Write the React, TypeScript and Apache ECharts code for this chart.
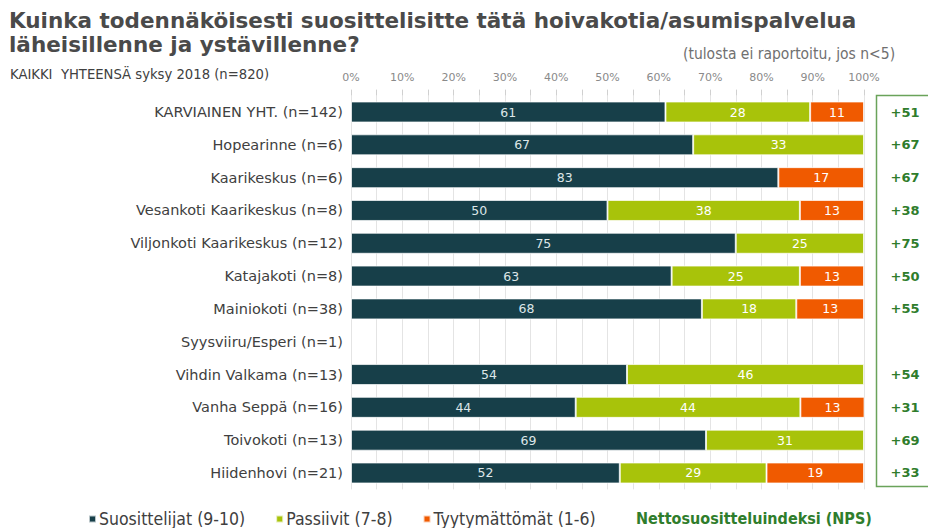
import React, { useEffect, useRef } from "react";
import * as echarts from "echarts";

const categories = [
  "KARVIAINEN YHT. (n=142)",
  "Hopearinne (n=6)",
  "Kaarikeskus (n=6)",
  "Vesankoti Kaarikeskus (n=8)",
  "Viljonkoti Kaarikeskus (n=12)",
  "Katajakoti (n=8)",
  "Mainiokoti (n=38)",
  "Syysviiru/Esperi (n=1)",
  "Vihdin Valkama (n=13)",
  "Vanha Seppä (n=16)",
  "Toivokoti (n=13)",
  "Hiidenhovi (n=21)",
];
// shares in percent (labels show rounded values)
const promoters = [61.3, 66.7, 83.3, 50, 75, 62.5, 68.4, null, 53.8, 43.8, 69.2, 52.4];
const passives = [28.2, 33.3, null, 37.5, 25, 25, 18.4, null, 46.2, 43.8, 30.8, 28.6];
const detractors = [10.5, null, 16.7, 12.5, null, 12.5, 13.2, null, null, 12.5, null, 19.0];
const nps = ["+51", "+67", "+67", "+38", "+75", "+50", "+55", "", "+54", "+31", "+69", "+33"];
const seriesNames = ["Suosittelijat (9-10)", "Passiivit (7-8)", "Tyytymättömät (1-6)"];
const npsTitle = "Nettosuosittelu" + "indeksi (NPS)";

const TEAL = "#173f49";
const LIME = "#a8c30a";
const ORANGE = "#f05a00";
const GREEN = "#2f7d2c";
const FONT = "DejaVu Sans, Verdana, sans-serif";
const NARROW = "'DejaVu Sans Condensed', 'Liberation Sans Narrow', sans-serif";

export default function App() {
  const ref = useRef<HTMLDivElement>(null);
  useEffect(() => {
    if (!ref.current) return;
    const chart = echarts.init(ref.current, null, { renderer: "svg" });
    const mkSeries = (name: string, data: (number | null)[], color: string, labelColor: string) => ({
      name,
      type: "bar",
      stack: "all",
      data,
      barWidth: 21,
      clip: true,
      itemStyle: { color, borderColor: "rgba(255,255,255,0.7)", borderWidth: 1 },
      label: {
        show: true,
        position: "inside",
        color: labelColor,
        fontFamily: FONT,
        fontSize: 12.5,
        formatter: (p: any) => (p.value == null ? "" : String(Math.round(p.value))),
      },
    });
    chart.setOption({
      animation: false,
      backgroundColor: "#ffffff",
      title: {
        text: "Kuinka todennäköisesti suosittelisitte tätä hoivakotia/asumispalvelua\nläheisillenne ja ystävillenne?",
        left: 9,
        top: 8,
        padding: 0,
        textStyle: { fontFamily: FONT, fontSize: 21.5, fontWeight: "bold", color: "#4a4a4a", lineHeight: 24 },
      },
      legend: {
        data: seriesNames,
        left: 88,
        top: 510,
        padding: 0,
        icon: "rect",
        itemWidth: 7,
        itemHeight: 7,
        itemGap: 30,
        textStyle: { fontFamily: NARROW, fontSize: 17.5, color: "#404040", padding: [0, 0, 0, -2] },
      },
      grid: { left: 351, right: 64, top: 95.6, bottom: 38.6, containLabel: false },
      xAxis: {
        type: "value",
        position: "top",
        min: 0,
        max: 100,
        interval: 5,
        axisLine: { show: false },
        axisTick: { show: true, length: 6, lineStyle: { color: "#d0d0d0" } },
        axisLabel: {
          margin: 13,
          color: "#8a8a8a",
          fontFamily: FONT,
          fontSize: 11,
          formatter: (v: number) => (v % 10 === 0 ? v + "%" : ""),
        },
        splitLine: { show: true, lineStyle: { color: "#e4e4e4" } },
      },
      yAxis: [
        {
          type: "category",
          data: categories,
          inverse: true,
          axisLine: { show: false },
          axisTick: { show: false },
          axisLabel: { margin: 8, color: "#404040", fontFamily: FONT, fontSize: 14.5 },
        },
        {
          type: "category",
          data: categories,
          inverse: true,
          position: "right",
          axisLine: { show: false },
          axisTick: { show: false },
          axisLabel: {
            margin: 41,
            align: "center",
            color: GREEN,
            fontFamily: FONT,
            fontSize: 13,
            fontWeight: "bold",
            formatter: (_v: string, i: number) => nps[i],
          },
        },
      ],
      series: [
        mkSeries(seriesNames[0], promoters, TEAL, "#dde6e8"),
        mkSeries(seriesNames[1], passives, LIME, "#ffffff"),
        mkSeries(seriesNames[2], detractors, ORANGE, "#ffffff"),
      ],
      graphic: [
        {
          type: "text",
          left: 10,
          top: 68,
          style: { text: "KAIKKI  YHTEENSÄ syksy 2018 (n=820)", fontFamily: FONT, fontSize: 13.2, fill: "#404040" },
        },
        {
          type: "text",
          left: 683,
          top: 46,
          style: { text: "(tulosta ei raportoitu, jos n<5)", fontFamily: NARROW, fontSize: 15.5, fill: "#707070" },
        },
        {
          type: "rect",
          shape: { x: 876.5, y: 95.5, width: 60, height: 391 },
          style: { fill: "none", stroke: "#6aa35a", lineWidth: 1.5 },
        },
        {
          type: "text",
          left: 636,
          top: 510,
          style: { text: npsTitle, fontFamily: NARROW, fontSize: 16, fontWeight: "bold", fill: GREEN },
        },
      ],
    });
    return () => chart.dispose();
  }, []);
  return <div ref={ref} style={{ position: "fixed", left: 0, top: 0, width: 928, height: 528 }} />;
}
